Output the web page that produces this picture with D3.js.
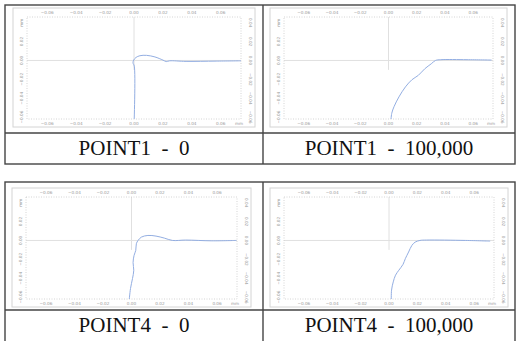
<!DOCTYPE html>
<html>
<head>
<meta charset="utf-8">
<script src="https://cdn.jsdelivr.net/npm/d3@7"></script>
<style>
  html, body { margin: 0; padding: 0; background: #fff; }
  svg { display: block; }
</style>
</head>
<body>
<div id="chart"></div>
<script>
// chart values (mm)
const xTicks = [-0.06, -0.04, -0.02, 0.00, 0.02, 0.04, 0.06];
const yTicks = [-0.06, -0.04, -0.02, 0.00, 0.02, 0.04];
const captions = ['POINT1  -  0', 'POINT1  -  100,000', 'POINT4  -  0', 'POINT4  -  100,000'];

const point1Cycle0 = [
  [0.0000, -0.070], [0.0002, -0.006], [-0.0007, -0.0025], [-0.0002, 0.0004],
  [0.0014, 0.0032], [0.0041, 0.0050], [0.0087, 0.0054], [0.0145, 0.0037],
  [0.0200, 0.0004], [0.0223, -0.0012], [0.0246, -0.0004], [0.0360, -0.0010],
  [0.0568, -0.0007], [0.0740, -0.0004]
];
const point1Cycle100k = [
  [0.0016, -0.066], [0.0023, -0.056], [0.0039, -0.049], [0.0074, -0.0386],
  [0.0120, -0.028], [0.0166, -0.0204], [0.0211, -0.0158], [0.0257, -0.0088],
  [0.0303, -0.0035], [0.0333, 0.0], [0.0370, 0.0008], [0.0556, 0.0008],
  [0.0730, 0.0004]
];
const point4Cycle0 = [
  [-0.0018, -0.066], [-0.0007, -0.0509], [0.0007, -0.0404], [0.0016, -0.0316],
  [0.0011, -0.0235], [0.0018, -0.0158], [0.0030, -0.0105], [0.0034, -0.0035],
  [0.0046, 0.0], [0.0069, 0.0035], [0.0115, 0.0053], [0.0172, 0.0046],
  [0.0230, 0.0025], [0.0287, 0.0], [0.0380, 0.0004], [0.0563, -0.0004],
  [0.0736, 0.0]
];
const point4Cycle100k = [
  [0.0016, -0.066], [0.0018, -0.0526], [0.0030, -0.0439], [0.0046, -0.0368],
  [0.0069, -0.0316], [0.0099, -0.0253], [0.0115, -0.0193], [0.0138, -0.0123],
  [0.0161, -0.0053], [0.0184, -0.0018], [0.0218, 0.0], [0.0264, 0.0004],
  [0.0540, 0.0], [0.0713, -0.0007]
];
const curves = [point1Cycle0, point1Cycle100k, point4Cycle0, point4Cycle100k];

const width = 517, height = 341;
const svg = d3.select('#chart').append('svg').attr('width', width).attr('height', height);

// panel frames [x, y, w, h]
const panels = [
  [13, 8, 242, 119],
  [270, 8, 237, 119],
  [12, 188, 239, 119],
  [270, 188, 238, 119]
];
const inset = { left: 14, right: 14, top: 9, bottom: 8 };
const xDomain = [-0.074, 0.074];
const yDomain = [-0.062, 0.046];

const defs = svg.append('defs');

panels.forEach((p, i) => {
  const [px, py, pw, ph] = p;
  const g = svg.append('g').attr('transform', `translate(${px},${py})`);
  const iw = pw - inset.left - inset.right;
  const ih = ph - inset.top - inset.bottom;

  g.append('rect').attr('width', pw).attr('height', ph)
    .attr('fill', '#fff').attr('stroke', '#d4d4d4').attr('stroke-width', 1);

  const plot = g.append('g').attr('transform', `translate(${inset.left},${inset.top})`);
  const x = d3.scaleLinear().domain(xDomain).range([0, iw]);
  const y = d3.scaleLinear().domain(yDomain).range([ih, 0]);

  defs.append('clipPath').attr('id', 'clip' + i)
    .append('rect').attr('width', iw).attr('height', ih);

  // crosshair at origin
  plot.append('line').attr('x1', 0).attr('x2', iw).attr('y1', y(0)).attr('y2', y(0))
    .attr('stroke', '#e0e0e0').attr('stroke-width', 1);
  plot.append('line').attr('x1', x(0)).attr('x2', x(0)).attr('y1', 0).attr('y2', y(-0.01))
    .attr('stroke', '#e0e0e0').attr('stroke-width', 1);

  // dotted plot frame
  plot.append('rect').attr('width', iw).attr('height', ih)
    .attr('fill', 'none').attr('stroke', '#cacaca').attr('stroke-width', 0.8)
    .attr('stroke-dasharray', '1,1.5');

  const tickStyle = sel => sel.attr('font-family', 'DejaVu Sans, sans-serif')
    .attr('font-size', 4.2).attr('fill', '#999');

  // x labels top and bottom
  plot.append('g').selectAll('text').data(xTicks).join('text')
    .attr('x', d => x(d)).attr('y', -3).attr('text-anchor', 'middle')
    .text(d => d3.format('.2f')(d)).call(tickStyle);
  plot.append('g').selectAll('text').data(xTicks).join('text')
    .attr('x', d => x(d)).attr('y', ih + 6).attr('text-anchor', 'middle')
    .text(d => d3.format('.2f')(d)).call(tickStyle);
  plot.append('text').attr('x', iw - 2).attr('y', ih + 6).attr('text-anchor', 'middle')
    .text('mm').call(tickStyle);

  // y labels, rotated, left and right
  plot.append('g').selectAll('text').data(yTicks).join('text')
    .attr('transform', d => `translate(-4,${y(d)}) rotate(-90)`)
    .attr('text-anchor', 'middle')
    .text(d => d === 0.04 ? 'mm' : d3.format('.2f')(d)).call(tickStyle);
  plot.append('g').selectAll('text').data(yTicks).join('text')
    .attr('transform', d => `translate(${iw + 8},${y(d)}) rotate(90)`)
    .attr('text-anchor', 'middle')
    .text(d => d3.format('.2f')(d)).call(tickStyle);

  plot.append('path').datum(curves[i])
    .attr('clip-path', `url(#clip${i})`)
    .attr('d', d3.line().x(d => x(d[0])).y(d => y(d[1])).curve(d3.curveCatmullRom.alpha(0.5)))
    .attr('fill', 'none').attr('stroke', '#93aee2').attr('stroke-width', 1);
});

// table grid
const gridColor = '#444';
const tables = [
  { top: 5, split: 133, bottom: 164 },
  { top: 182, split: 310, bottom: 350 }
];
const tableLeft = 5, tableRight = 515, tableMid = 263;
tables.forEach(t => {
  svg.append('rect').attr('x', tableLeft).attr('y', t.top)
    .attr('width', tableRight - tableLeft).attr('height', t.bottom - t.top)
    .attr('fill', 'none').attr('stroke', gridColor).attr('stroke-width', 1.4);
  svg.append('line').attr('x1', tableLeft).attr('x2', tableRight).attr('y1', t.split).attr('y2', t.split)
    .attr('stroke', gridColor).attr('stroke-width', 1.4);
  svg.append('line').attr('x1', tableMid).attr('x2', tableMid).attr('y1', t.top).attr('y2', t.bottom)
    .attr('stroke', gridColor).attr('stroke-width', 1.4);
});

// captions
captions.forEach((c, i) => {
  const t = tables[Math.floor(i / 2)];
  const cx = i % 2 === 0 ? (tableLeft + tableMid) / 2 : (tableMid + tableRight) / 2;
  svg.append('text').attr('x', cx).attr('y', t.split + 22)
    .attr('text-anchor', 'middle')
    .attr('font-family', 'Liberation Serif, Times New Roman, serif')
    .attr('font-size', 21).attr('fill', '#111')
    .style('white-space', 'pre')
    .text(c);
});
</script>
</body>
</html>
